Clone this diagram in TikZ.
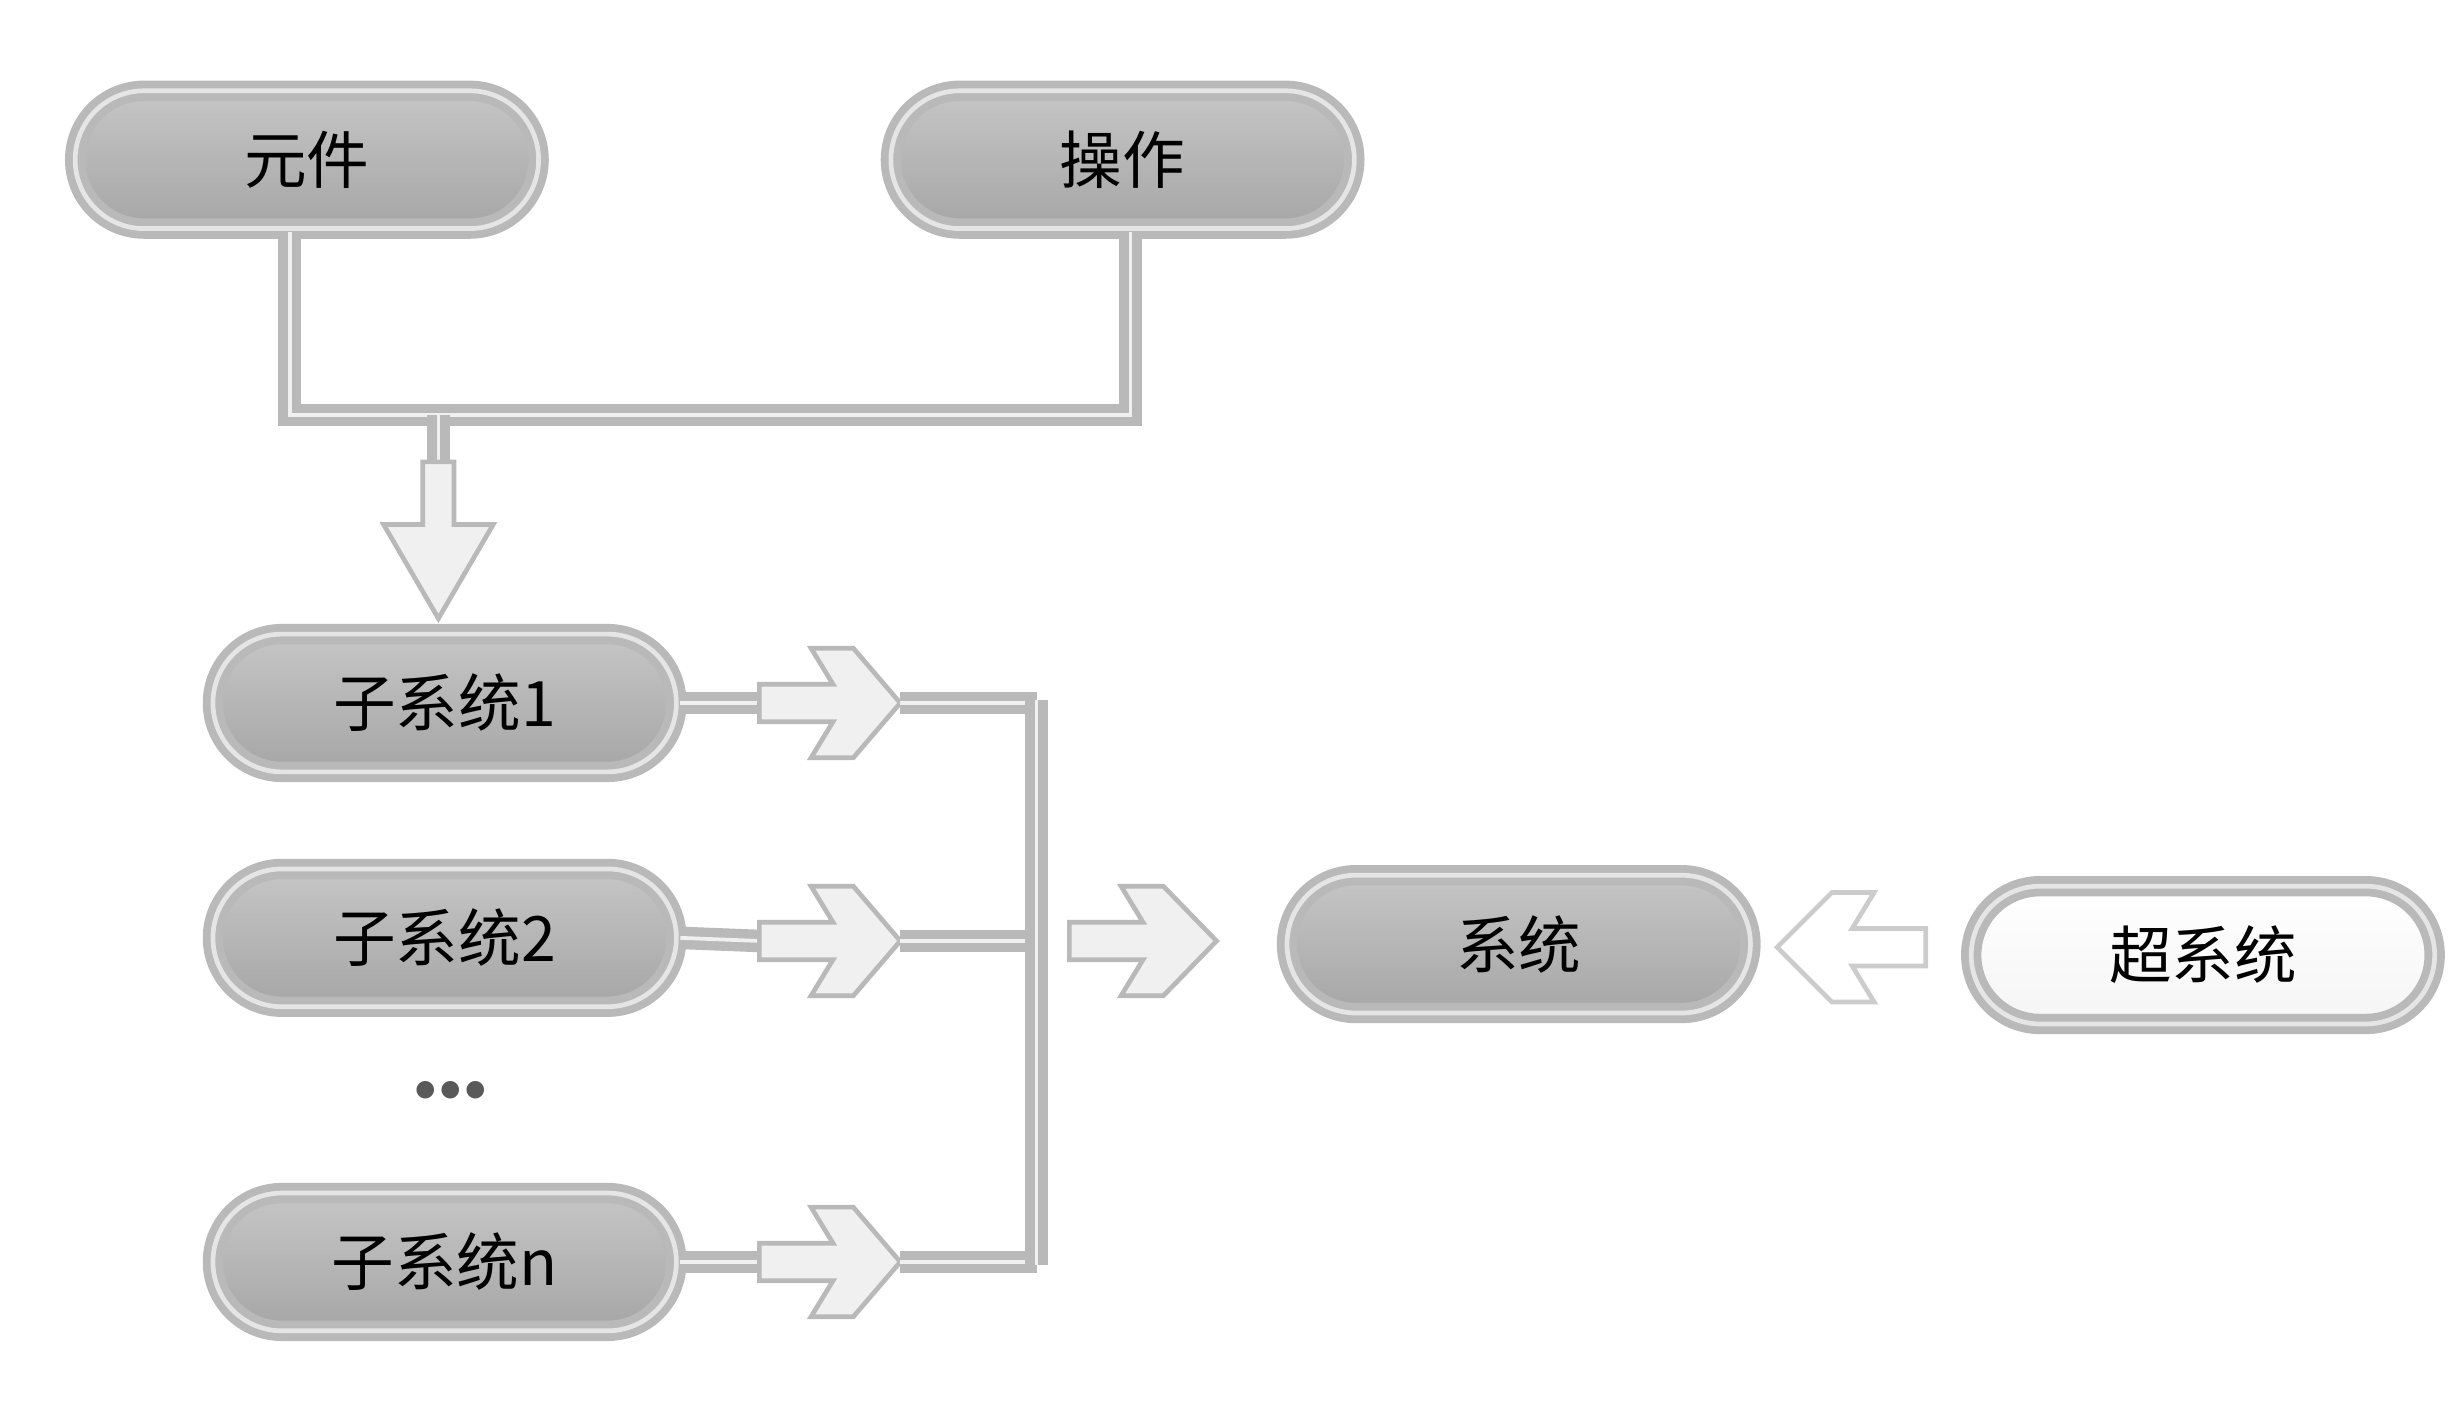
\documentclass[tikz,border=0pt]{standalone}
\usepackage{fontspec}
\newfontfamily\cjk{Noto Sans CJK SC}
\begin{document}
\begin{tikzpicture}[x=0.5pt,y=-0.5pt,
  box/.style={draw=gray!55,line width=2.5pt,double=gray!20,double distance=1.5pt,rounded corners=22pt,
    minimum width=148pt,minimum height=44pt,top color=gray!45,bottom color=gray!70,font=\cjk\fontsize{20}{22}\selectfont},
  wbox/.style={box,top color=white,bottom color=gray!8},
  conn/.style={draw=gray!55,line width=3pt,double=gray!12,double distance=1.2pt},
  harrow/.style={draw=gray!55,line width=1.5pt,fill=gray!12,line join=miter}]
\useasboundingbox (0,0) rectangle (1568,897);
\node[box] (a) at (196,102) {元件};
\node[box] (b) at (717,102) {操作};
\node[box] (s1) at (284,449) {子系统1};
\node[box] (s2) at (284,599) {子系统2};
\node[box] (sn) at (284,806) {子系统\textit{n}};
\node[box] (sys) at (970,603) {系统};
\node[wbox] (sup) at (1407,610) {超系统};
\node[font=\Large,text=gray!70!black] (dots) at (288,697) {$\bullet\!\bullet\!\bullet$};
\coordinate (j) at (280,265);
\draw[conn] (185,148) -- (185,265) -- (722,265) -- (722,148);
\draw[conn] (j) -- (280,300);
% down arrow
\draw[harrow] (270,295) -- (290,295) -- (290,335) -- (315,335) -- (280,395) -- (245,335) -- (270,335) -- cycle;
% right arrows
\foreach \y/\n in {449/s1,601/s2,806/sn}{
  \draw[conn] (\n.east) -- (485,\y);
  \draw[harrow] (485,\y-12) -- (532,\y-12) -- (518,\y-35) -- (545,\y-35) -- (575,\y) -- (545,\y+35) -- (518,\y+35) -- (532,\y+12) -- (485,\y+12) -- cycle;
  \draw[conn] (575,\y) -- (662,\y);
}
\draw[conn] (662,447) -- (662,808);
\draw[harrow] (683,589) -- (730,589) -- (716,566) -- (743,566) -- (777,601) -- (743,636) -- (716,636) -- (730,613) -- (683,613) -- cycle;
\draw[harrow,draw=gray!40,fill=white] (1230,593) -- (1183,593) -- (1197,570) -- (1170,570) -- (1135,605) -- (1170,640) -- (1197,640) -- (1183,617) -- (1230,617) -- cycle;
\end{tikzpicture}
\end{document}
